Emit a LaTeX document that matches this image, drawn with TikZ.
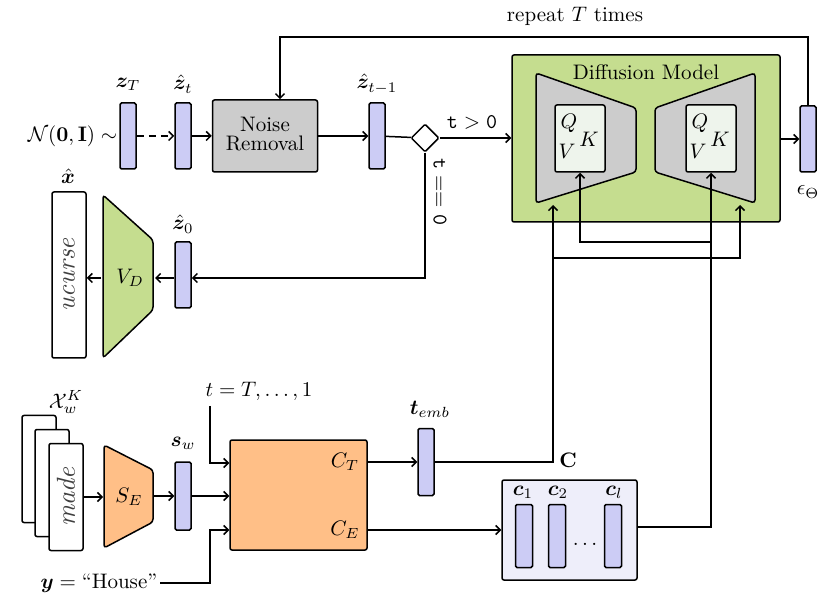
\documentclass[tikz,border=0pt]{standalone}
\usepackage{amsmath,amssymb,bm}
\usetikzlibrary{arrows.meta,shapes.geometric}
\definecolor{bar}{HTML}{CCCCF5}
\definecolor{dgreen}{HTML}{C5DD8F}
\definecolor{orng}{HTML}{FFBF87}
\definecolor{gr}{HTML}{CCCCCC}
\definecolor{inner}{HTML}{EEF4EC}
\definecolor{cblk}{HTML}{EEEEFA}
\newcommand{\Tx}[1]{\scalebox{2.1}{#1}}
\newcommand{\Hw}[1]{\scalebox{2.6}{\itshape #1}}
\begin{document}
\begin{tikzpicture}[x=1pt,y=-1pt,line width=1.5pt,
  >={Straight Barb[length=4.5pt,width=9pt]},
  barn/.style={draw,fill=bar,rounded corners=1.5pt,minimum width=16pt,minimum height=66pt,inner sep=0pt},
  box/.style={draw,rounded corners=2pt,inner sep=0pt},
  img/.style={draw,fill=white,rounded corners=2pt,minimum width=34pt,minimum height=107pt,inner sep=0pt},
  hw/.style={rotate=90,text=black!75}]
\useasboundingbox (0,0) rectangle (830,609);
% top row
\node[barn] (zT) at (128,136) {};
\node at (128,84) {\Tx{$\bm{z}_T$}};
\node[barn] (zt) at (183,136) {};
\node at (183,84) {\Tx{$\hat{\bm{z}}_t$}};
\node[box,fill=gr,minimum width=105pt,minimum height=72pt] (nr) at (265,136) {\Tx{\begin{tabular}{@{}c@{}}Noise\\[-3pt]Removal\end{tabular}}};
\node[barn] (ztm) at (377,136) {};
\node at (377,84) {\Tx{$\hat{\bm{z}}_{t-1}$}};
\node[draw,diamond,fill=white,minimum width=28pt,minimum height=28pt,inner sep=0pt,rounded corners=1pt] (dia) at (425,138) {};
\node[anchor=east,inner sep=2pt] (N) at (120,136) {\Tx{$\mathcal{N}(\mathbf{0},\mathbf{I})\sim$}};
\draw[->,dash pattern=on 7pt off 5pt] (zT) -- (zt);
\draw[->] (zt) -- (nr);
\draw[->] (nr) -- (ztm);
\draw (ztm) -- (dia);
% diffusion model
\node[box,fill=dgreen,minimum width=268pt,minimum height=167pt] (dm) at (646,138.5) {};
\node at (646,72) {\Tx{Diffusion Model}};
\draw[fill=gr,rounded corners=3pt] (536,73) -- (636,108) -- (636,172) -- (536,203) -- cycle;
\draw[fill=gr,rounded corners=3pt] (755,73) -- (655,108) -- (655,172) -- (755,203) -- cycle;
\node[box,fill=inner,minimum width=50pt,minimum height=67pt] (q1) at (580,138.5) {};
\node[box,fill=inner,minimum width=50pt,minimum height=67pt] (q2) at (711,138.5) {};
\node at (569,123) {\Tx{$Q$}}; \node at (589,139) {\Tx{$K$}}; \node at (567,151) {\Tx{$V$}};
\node at (700,123) {\Tx{$Q$}}; \node at (720,139) {\Tx{$K$}}; \node at (698,151) {\Tx{$V$}};
\node at (472,122) {\Tx{$\mathtt{t>0}$}};
\draw[->] (dia) -- (dm.west |- dia);
\node[barn] (eps) at (808,139) {};
\node at (808,192) {\Tx{$\epsilon_\Theta$}};
\draw[->] (dm.east |- eps) -- (eps);
\node at (575,16) {\Tx{repeat $T$ times}};
\draw[->] (eps.north) -- (808,37) -- (280,37) -- (nr.north -| 280,0);
% t=0 branch
\node[rotate=-90] at (440,192) {\Tx{$\mathtt{t==0}$}};
\node[barn] (z0) at (183,275) {};
\node at (183,224) {\Tx{$\hat{\bm{z}}_0$}};
\draw[->] (dia.south) -- (425,278) -- (z0.east |- 0,278);
\draw[fill=dgreen,rounded corners=3pt] (103,195) -- (153,240) -- (153,310) -- (103,358) -- cycle;
\node at (130,278) {\Tx{$V_D$}};
\draw[->] (z0.west |- 0,278) -- (155,278);
\node[img,minimum height=166pt] (xh) at (69,275) {};
\node[hw] at (69,275) {\Hw{ucurse}};
\draw[->] (101,278) -- (xh.east |- 0,278);
\node at (68,176) {\Tx{$\hat{\bm{x}}$}};
% bottom
\node[img] (i3) at (39,469) {};
\node[img] (i2) at (52,483) {};
\node[img] (i1) at (66,497) {};
\node[hw] at (66,497) {\Hw{made}};
\node at (66,402) {\Tx{$\mathcal{X}_w^K$}};
\draw[fill=orng,rounded corners=3pt] (104,445) -- (153,470) -- (153,522) -- (104,548) -- cycle;
\node at (129,497) {\Tx{$S_E$}};
\draw[->] (i1.east) -- (103,497);
\node[barn,minimum height=68pt] (sw) at (183,496) {};
\node at (183,443) {\Tx{$\bm{s}_w$}};
\draw[->] (154,496) -- (sw.west);
\node[box,fill=orng,minimum width=137pt,minimum height=110pt] (cb) at (298.5,495) {};
\node at (345,462) {\Tx{$C_T$}};
\node at (345,530) {\Tx{$C_E$}};
\draw[->] (sw.east) -- (cb.west |- sw);
\node at (259,391) {\Tx{$t=T,\ldots,1$}};
\draw[->] (210,406) -- (210,463) -- (cb.west |- 0,463);
\node[anchor=east,inner sep=2pt] (y) at (160,583) {\Tx{$\bm{y}=\text{``House''}$}};
\draw[->] (y.east) -- (210,583) -- (210,530) -- (cb.west |- 0,530);
\node[barn,minimum height=67pt] (te) at (426,462) {};
\node at (430,409) {\Tx{$\bm{t}_{emb}$}};
\draw[->] (cb.east |- te) -- (te);
\node at (568,460) {\Tx{$\mathbf{C}$}};
\draw[->] (te.east) -- (553,462) -- (553,205);
\draw[->] (553,258) -- (740,258) -- (740,205);
% context block
\node[box,fill=cblk,minimum width=135pt,minimum height=100pt] (cc) at (569.5,530) {};
\node[barn,minimum width=17pt,minimum height=63pt] (c1) at (524,536) {};
\node[barn,minimum width=17pt,minimum height=63pt] (c2) at (557,536) {};
\node[barn,minimum width=17pt,minimum height=63pt] (cl) at (613,536) {};
\node at (523,492) {\Tx{$\bm{c}_1$}};
\node at (558,492) {\Tx{$\bm{c}_2$}};
\node at (614,492) {\Tx{$\bm{c}_l$}};
\node at (585,544) {\Tx{$\ldots$}};
\draw[->] (cb.east |- 0,530) -- (cc.west |- 0,530);
\draw[->] (cc.east |- 0,527) -- (711,527) -- (q2.south);
\draw[->] (711,242) -- (580,242) -- (q1.south);
\end{tikzpicture}
\end{document}
